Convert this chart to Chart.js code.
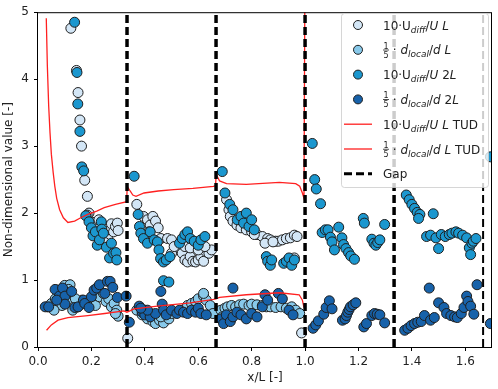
<!DOCTYPE html>
<html lang="en">
<head>
<meta charset="UTF-8" />
<title>Non-dimensional values along x/L</title>
<script src="https://cdn.jsdelivr.net/npm/chart.js"></script>
<style>
  html, body { margin: 0; padding: 0; background: #fff; }
  #wrap { width: 498px; height: 389px; }
</style>
</head>
<body>
<div id="wrap"><canvas id="chart" width="498" height="389"></canvas></div>
<script>
// axis ticks
const xTicks = [0, 0.2, 0.4, 0.6, 0.8, 1.0, 1.2, 1.4, 1.6];
const yTicks = [0, 1, 2, 3, 4, 5];
const gapX = [1/3, 2/3, 1, 4/3, 5/3];

// 10·Udiff/U  L
const uL_x = [0.123,0.144,0.150,0.157,0.163,0.175,0.185,0.191,0.184,0.205,0.215,0.222,0.230,0.238,0.244,0.250,0.258,0.262,0.270,0.275,0.283,0.290,0.297,0.300,0.250,0.228,0.212,0.336,
  0.370,0.395,0.410,0.420,0.430,0.440,0.450,0.415,0.460,0.485,0.500,0.520,0.530,0.540,0.550,0.560,0.570,0.580,0.590,0.600,0.610,0.620,0.630,0.640,0.650,0.500,0.510,0.550,0.570,0.600,0.625,
  0.706,0.715,0.720,0.730,0.745,0.760,0.780,0.800,0.820,0.840,0.860,0.870,0.890,0.900,0.915,0.930,0.945,0.960,0.970,0.950,0.960,0.810,0.850,0.880,0.987];
const uL_y = [4.76,4.13,3.80,3.39,3.00,2.49,2.25,2.00,1.97,1.86,1.80,1.72,1.78,1.68,1.62,1.73,1.80,1.66,1.75,1.84,1.72,1.80,1.85,1.74,1.56,1.90,1.70,0.13,
  2.13,1.95,1.90,1.82,1.95,1.88,1.78,1.72,1.62,1.62,1.60,1.48,1.45,1.40,1.30,1.27,1.35,1.28,1.27,1.30,1.35,1.28,1.42,1.40,1.45,1.40,1.50,1.50,1.48,1.45,1.50,
  2.20,2.05,1.95,1.88,1.82,1.78,1.75,1.72,1.68,1.65,1.62,1.60,1.58,1.58,1.60,1.62,1.63,1.67,1.65,1.28,1.33,1.68,1.55,1.57,0.21];

// 1/5 · dlocal/d  L
const dL_x = [0.035,0.050,0.065,0.075,0.085,0.100,0.120,0.115,0.090,0.110,0.130,0.150,0.165,0.180,0.200,0.215,0.230,0.245,0.255,0.265,0.275,0.285,0.295,0.300,0.290,0.060,0.140,
  0.370,0.390,0.410,0.430,0.440,0.455,0.470,0.490,0.500,0.520,0.540,0.560,0.575,0.590,0.600,0.620,0.630,0.645,0.655,0.400,0.420,0.460,0.620,
  0.685,0.700,0.710,0.725,0.740,0.755,0.770,0.790,0.800,0.820,0.840,0.855,0.870,0.890,0.910,0.930,0.950,0.965,0.980,0.690,0.720];
const dL_y = [0.60,0.65,0.72,0.85,0.80,0.92,0.93,0.86,0.62,0.70,0.55,0.60,0.70,0.65,0.72,0.62,0.75,0.80,0.68,0.72,0.60,0.65,0.55,0.46,0.50,0.55,0.72,
  0.55,0.48,0.42,0.38,0.35,0.40,0.36,0.42,0.50,0.52,0.55,0.62,0.65,0.68,0.72,0.76,0.70,0.62,0.50,0.55,0.50,0.45,0.80,
  0.55,0.58,0.60,0.62,0.60,0.63,0.64,0.62,0.64,0.63,0.62,0.60,0.60,0.59,0.60,0.58,0.60,0.55,0.50,0.45,0.40];

// 10·Udiff/U  2L
const u2L_x = [0.137,0.146,0.149,0.157,0.164,0.171,0.179,0.191,0.200,0.206,0.215,0.222,0.230,0.237,0.239,0.245,0.256,0.268,0.275,0.283,0.292,0.295,
  0.360,0.375,0.380,0.385,0.395,0.410,0.420,0.435,0.447,0.453,0.459,0.470,0.480,0.494,0.530,0.540,0.550,0.560,0.570,0.585,0.600,0.610,0.625,0.470,0.490,
  0.690,0.700,0.718,0.730,0.746,0.760,0.770,0.780,0.790,0.800,0.810,0.855,0.860,0.870,0.875,0.920,0.930,0.940,0.950,0.960,
  1.027,1.036,1.042,1.058,1.064,1.076,1.086,1.095,1.101,1.110,1.126,1.138,1.144,1.153,1.163,1.171,1.185,1.218,1.222,1.250,1.258,1.265,1.272,1.280,1.298,
  1.379,1.390,1.400,1.410,1.420,1.430,1.425,1.480,1.455,1.470,1.490,1.500,1.510,1.525,1.540,1.550,1.565,1.575,1.590,1.605,1.615,1.620,1.625,1.630,1.640,1.694];
const u2L_y = [4.85,4.10,3.63,3.22,2.69,2.63,1.96,1.87,1.78,1.66,1.72,1.52,1.60,1.87,1.76,1.70,1.49,1.33,1.55,1.40,1.41,1.30,
  2.55,1.98,1.80,1.70,1.62,1.55,1.72,1.60,1.57,1.45,1.32,1.27,1.30,1.35,1.55,1.62,1.68,1.72,1.62,1.58,1.52,1.60,1.65,0.99,0.97,
  2.62,2.30,2.13,2.05,1.90,1.95,1.85,2.00,1.80,1.90,1.75,1.35,1.28,1.22,1.30,1.25,1.28,1.33,1.22,1.30,
  3.04,2.50,2.36,2.14,1.71,1.75,1.75,1.64,1.57,1.45,1.79,1.63,1.53,1.47,1.41,1.36,1.31,1.92,1.85,1.61,1.55,1.52,1.56,1.60,1.83,
  2.27,2.20,2.13,2.07,2.01,1.98,1.92,1.99,1.65,1.67,1.63,1.47,1.68,1.65,1.68,1.70,1.72,1.70,1.67,1.63,1.48,1.38,1.55,1.58,1.62,2.84];

// 1/5 · dlocal/d  2L
const d2L_x = [0.027,0.064,0.080,0.092,0.101,0.101,0.126,0.138,0.150,0.170,0.175,0.191,0.200,0.210,0.220,0.230,0.250,0.260,0.270,0.280,0.297,0.330,0.040,0.070,
  0.342,0.379,0.390,0.400,0.420,0.440,0.460,0.465,0.470,0.480,0.500,0.520,0.530,0.545,0.560,0.575,0.590,0.600,0.610,0.630,0.410,0.385,
  0.730,0.685,0.695,0.705,0.720,0.730,0.745,0.760,0.780,0.800,0.820,0.840,0.850,0.860,0.900,0.915,0.940,0.955,
  1.030,1.040,1.050,1.070,1.079,1.091,1.101,1.140,1.150,1.155,1.160,1.165,1.170,1.180,1.190,1.220,1.230,1.250,1.260,1.270,1.280,1.298,
  1.373,1.385,1.397,1.410,1.422,1.435,1.447,1.465,1.470,1.484,1.500,1.520,1.530,1.546,1.560,1.570,1.585,1.595,1.605,1.610,1.620,1.632,1.644,1.694];
const d2L_y = [0.60,0.86,0.76,0.88,0.76,0.64,0.83,0.59,0.60,0.70,0.65,0.59,0.75,0.85,0.88,0.93,0.80,0.98,0.98,0.89,0.74,0.76,0.60,0.70,
  0.37,0.61,0.52,0.48,0.45,0.50,0.83,0.64,0.55,0.48,0.55,0.50,0.55,0.52,0.50,0.55,0.52,0.58,0.50,0.48,0.55,0.58,
  0.88,0.42,0.35,0.48,0.38,0.45,0.52,0.48,0.42,0.50,0.45,0.60,0.78,0.70,0.80,0.72,0.55,0.48,
  0.28,0.33,0.39,0.49,0.59,0.69,0.57,0.40,0.42,0.47,0.52,0.56,0.60,0.63,0.66,0.30,0.35,0.47,0.50,0.49,0.48,0.36,
  0.25,0.28,0.32,0.35,0.37,0.38,0.47,0.88,0.40,0.44,0.66,0.59,0.50,0.47,0.45,0.44,0.50,0.59,0.76,0.68,0.61,0.49,0.93,0.35];

// TUD reference curves
const tudU_x = [0.031,0.035,0.040,0.045,0.050,0.057,0.063,0.070,0.081,0.095,0.112,0.137,0.160,0.186,0.220,0.248,0.290,0.332,
  0.334,0.345,0.355,0.367,0.397,0.450,0.508,0.580,0.657,0.665,
  0.667,0.680,0.706,0.780,0.904,0.965,0.980,0.990,0.996,1.000];
const tudU_y = [4.91,4.20,3.60,3.20,2.88,2.60,2.40,2.22,2.05,1.93,1.86,1.88,1.93,1.98,2.03,2.08,2.13,2.17,
  2.40,2.33,2.27,2.25,2.30,2.33,2.35,2.37,2.40,2.41,
  2.58,2.48,2.44,2.43,2.46,2.44,2.40,2.30,2.22,6.00];
const tudD_x = [0.032,0.050,0.075,0.112,0.186,0.250,0.322,0.333,0.360,0.447,0.570,0.657,0.666,0.680,0.780,0.904,0.978,0.990,0.996];
const tudD_y = [0.25,0.33,0.40,0.44,0.47,0.50,0.54,0.52,0.57,0.61,0.66,0.71,0.72,0.74,0.78,0.81,0.78,0.70,0.59];

const pts = (xs, ys) => xs.map((x, i) => ({ x: x, y: ys[i] }));

const dot = (data, color, order) => ({
  data: data,
  backgroundColor: color,
  borderColor: '#1e1e1e',
  borderWidth: 1,
  pointRadius: 5,
  pointHoverRadius: 5,
  showLine: false,
  clip: 0,
  order: order
});
const curve = (data) => ({
  data: data,
  showLine: true,
  borderColor: '#ff2020',
  borderWidth: 1.3,
  pointRadius: 0,
  pointHoverRadius: 0,
  fill: false,
  clip: 0,
  order: 1
});

const datasets = [
  dot(pts(uL_x, uL_y), '#d3e6f6', 5),
  dot(pts(dL_x, dL_y), '#88c9ea', 4),
  dot(pts(u2L_x, u2L_y), '#1b97cf', 3),
  dot(pts(d2L_x, d2L_y), '#1762aa', 2),
  curve(pts(tudU_x, tudU_y)),
  curve(pts(tudD_x, tudD_y))
];
gapX.forEach((g, i) => {
  datasets.push({
    data: [{ x: g, y: 0 }, { x: g, y: 5 }],
    showLine: true,
    borderColor: '#000',
    borderWidth: i === 4 ? 2 : 3.5,
    borderDash: [8, 4],
    pointRadius: 0,
    pointHoverRadius: 0,
    clip: 0,
    order: 0
  });
});

// legend with math-style labels
const FONT = '"DejaVu Sans", sans-serif';
const legendRows = [
  { kind: 'dot', color: '#d3e6f6', parts: [{ t: '10·U' }, { t: 'diff', i: 1, s: 1 }, { t: '/' }, { t: 'U L', i: 1 }] },
  { kind: 'dot', color: '#88c9ea', parts: [{ f: 1 }, { t: ' · ' }, { t: 'd', i: 1 }, { t: 'local', i: 1, s: 1 }, { t: '/' }, { t: 'd L', i: 1 }] },
  { kind: 'dot', color: '#1b97cf', parts: [{ t: '10·U' }, { t: 'diff', i: 1, s: 1 }, { t: '/' }, { t: 'U', i: 1 }, { t: ' 2' }, { t: 'L', i: 1 }] },
  { kind: 'dot', color: '#1762aa', parts: [{ f: 1 }, { t: ' · ' }, { t: 'd', i: 1 }, { t: 'local', i: 1, s: 1 }, { t: '/' }, { t: 'd', i: 1 }, { t: ' 2' }, { t: 'L', i: 1 }] },
  { kind: 'red', parts: [{ t: '10·U' }, { t: 'diff', i: 1, s: 1 }, { t: '/' }, { t: 'U L', i: 1 }, { t: ' TUD' }] },
  { kind: 'red', parts: [{ f: 1 }, { t: ' · ' }, { t: 'd', i: 1 }, { t: 'local', i: 1, s: 1 }, { t: '/' }, { t: 'd L', i: 1 }, { t: ' TUD' }] },
  { kind: 'gap', parts: [{ t: 'Gap' }] }
];

function drawParts(ctx, x, y, parts) {
  ctx.fillStyle = '#222';
  ctx.textBaseline = 'alphabetic';
  for (const p of parts) {
    if (p.f) {
      ctx.font = '8px ' + FONT;
      ctx.textAlign = 'center';
      ctx.fillText('1', x + 3, y - 1);
      ctx.fillText('5', x + 3, y + 8);
      ctx.fillRect(x, y - 0.2, 6, 0.8);
      ctx.textAlign = 'left';
      x += 6;
      continue;
    }
    ctx.font = (p.i ? 'italic ' : '') + (p.s ? '9px ' : '12px ') + FONT;
    ctx.fillText(p.t, x, y + (p.s ? 7.5 : 4.5));
    x += ctx.measureText(p.t).width;
  }
}

const extras = {
  id: 'extras',
  afterDatasetsDraw(chart) {
    const { ctx, chartArea: a } = chart;
    ctx.save();
    ctx.strokeStyle = '#000';
    ctx.lineWidth = 1;
    ctx.strokeRect(a.left - 0.5, a.top + 0.5, a.right - a.left, a.bottom - a.top);
    ctx.restore();
  },
  afterDraw(chart) {
    const ctx = chart.ctx;
    ctx.save();
    const bx = 341, by = 13, bw = 147, bh = 174;
    ctx.beginPath();
    ctx.roundRect(bx + 0.5, by + 0.5, bw, bh, 3);
    ctx.fillStyle = 'rgba(255,255,255,0.8)';
    ctx.fill();
    ctx.strokeStyle = 'rgba(204,204,204,0.8)';
    ctx.lineWidth = 1;
    ctx.stroke();
    legendRows.forEach((r, i) => {
      const cy = 25 + i * 24.8;
      if (r.kind === 'dot') {
        ctx.beginPath();
        ctx.arc(358, cy, 4.5, 0, Math.PI * 2);
        ctx.fillStyle = r.color;
        ctx.fill();
        ctx.strokeStyle = '#1e1e1e';
        ctx.lineWidth = 1;
        ctx.stroke();
      } else {
        ctx.beginPath();
        ctx.moveTo(344, cy);
        ctx.lineTo(372, cy);
        ctx.strokeStyle = r.kind === 'red' ? '#ff2020' : '#000';
        ctx.lineWidth = r.kind === 'red' ? 1.3 : 3;
        ctx.setLineDash(r.kind === 'red' ? [] : [8, 4]);
        ctx.stroke();
        ctx.setLineDash([]);
      }
      drawParts(ctx, 383, cy, r.parts);
    });
    ctx.restore();
  }
};

new Chart(document.getElementById('chart'), {
  type: 'scatter',
  data: { datasets: datasets },
  options: {
    responsive: false,
    animation: false,
    devicePixelRatio: 1,
    layout: { padding: { left: 0, right: 1, top: 5, bottom: 0 } },
    plugins: {
      legend: { display: false },
      tooltip: { enabled: false }
    },
    scales: {
      x: {
        type: 'linear',
        min: 0,
        max: 1.7,
        afterBuildTicks: s => { s.ticks = xTicks.map(v => ({ value: v })); },
        afterFit: s => { s.height = 42; },
        grid: { drawOnChartArea: false, drawTicks: true, tickLength: 4, tickWidth: 1, tickColor: '#000' },
        border: { display: false },
        ticks: { callback: v => v.toFixed(1), color: '#222', font: { family: 'DejaVu Sans', size: 12 }, padding: 4, maxRotation: 0, autoSkip: false },
        title: { display: true, text: 'x/L [-]', color: '#222', font: { family: 'DejaVu Sans', size: 12 }, padding: { top: 2, bottom: 4 } }
      },
      y: {
        type: 'linear',
        min: 0,
        max: 5,
        afterBuildTicks: s => { s.ticks = yTicks.map(v => ({ value: v })); },
        afterFit: s => { s.width = 38; },
        grid: { drawOnChartArea: false, drawTicks: true, tickLength: 4, tickWidth: 1, tickColor: '#000' },
        border: { display: false },
        ticks: { callback: v => String(v), color: '#222', font: { family: 'DejaVu Sans', size: 12 }, padding: 5 },
        title: { display: true, text: 'Non-dimensional value [-]', color: '#222', font: { family: 'DejaVu Sans', size: 12 }, padding: { top: 2, bottom: 0 } }
      }
    }
  },
  plugins: [extras]
});
</script>
</body>
</html>
